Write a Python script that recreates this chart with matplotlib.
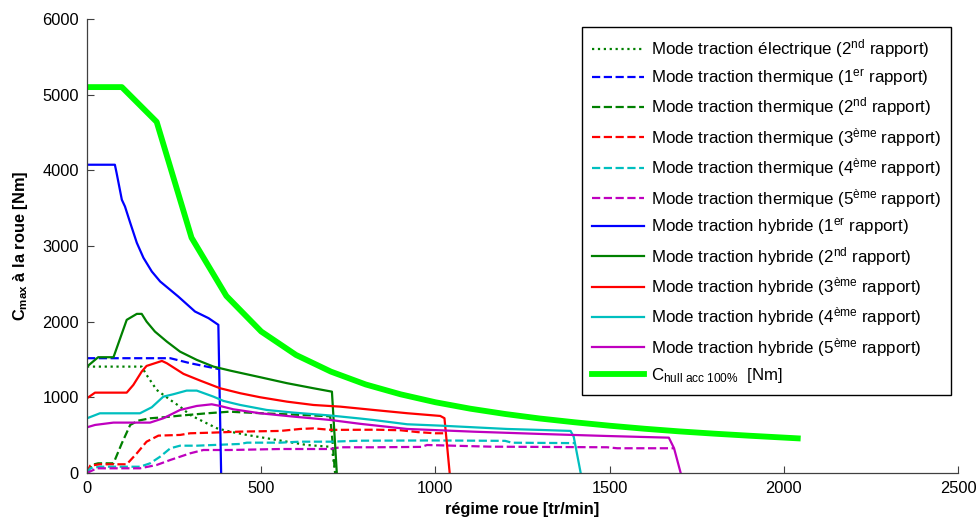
import matplotlib
matplotlib.use("Agg")
import matplotlib.pyplot as plt

plt.rcParams['font.family'] = ['Liberation Sans', 'DejaVu Sans']
plt.rcParams['mathtext.fontset'] = 'custom'
plt.rcParams['mathtext.rm'] = 'Liberation Sans'
plt.rcParams['mathtext.it'] = 'Liberation Sans:italic'
plt.rcParams['mathtext.bf'] = 'Liberation Sans:bold'

# ---------------- data ----------------
elec2_x = [0, 157, 171, 200, 239, 267, 296, 334, 373, 411, 459, 516, 574, 631, 693, 703, 708, 713]
elec2_y = [1406, 1406, 1296, 1098, 966, 877, 767, 679, 591, 546, 503, 459, 414, 370, 348, 330, 150, 0]

therm1_x = [0, 239, 296, 380]
therm1_y = [1517, 1517, 1451, 1372]

therm2_x = [0, 13, 32, 76, 100, 124, 147, 181, 219, 267, 344, 411, 430, 500, 600, 698, 705, 712]
therm2_y = [0, 106, 128, 128, 393, 635, 692, 723, 736, 758, 789, 811, 805, 790, 770, 750, 400, 0]

therm3_x = [0, 9, 37, 114, 143, 171, 205, 267, 296, 363, 440, 555, 612, 650, 700, 830, 900, 950, 1000, 1024]
therm3_y = [0, 97, 115, 115, 260, 414, 494, 503, 525, 534, 547, 556, 582, 590, 570, 572, 565, 540, 525, 525]

therm4_x = [0, 9, 37, 152, 181, 210, 239, 267, 315, 363, 440, 459, 555, 612, 700, 785, 1000, 1200, 1220, 1400]
therm4_y = [0, 62, 83, 83, 128, 216, 326, 361, 361, 370, 384, 401, 401, 414, 414, 427, 430, 425, 400, 395]

therm5_x = [0, 28, 152, 200, 239, 296, 334, 411, 555, 698, 727, 823, 960, 976, 1158, 1493, 1522, 1685]
therm5_y = [0, 62, 62, 106, 172, 260, 304, 304, 317, 317, 340, 340, 345, 370, 348, 340, 327, 327]

hyb1_x = [0, 80, 85, 100, 109, 124, 143, 162, 186, 210, 262, 310, 349, 377, 385]
hyb1_y = [4074, 4074, 3964, 3611, 3522, 3307, 3042, 2844, 2663, 2531, 2332, 2134, 2046, 1958, 0]

hyb2_x = [0, 32, 76, 114, 143, 157, 171, 195, 229, 267, 315, 363, 411, 497, 574, 650, 703, 717]
hyb2_y = [1406, 1530, 1530, 2024, 2103, 2103, 2001, 1869, 1737, 1604, 1495, 1406, 1353, 1266, 1187, 1120, 1075, 0]

hyb3_x = [0, 23, 114, 133, 157, 171, 215, 229, 277, 325, 382, 440, 497, 574, 650, 727, 823, 919, 1014, 1026, 1041]
hyb3_y = [988, 1062, 1062, 1164, 1340, 1415, 1481, 1451, 1310, 1221, 1120, 1054, 1001, 943, 899, 877, 833, 790, 754, 724, 0]

hyb4_x = [0, 37, 152, 186, 219, 248, 286, 315, 363, 392, 440, 516, 593, 698, 784, 823, 919, 1014, 1110, 1206, 1302, 1388, 1397, 1417]
hyb4_y = [723, 789, 789, 869, 1009, 1041, 1089, 1089, 1009, 952, 899, 833, 798, 760, 720, 700, 644, 626, 604, 582, 569, 556, 480, 0]

hyb5_x = [0, 23, 76, 181, 219, 267, 315, 358, 382, 420, 497, 593, 698, 784, 919, 1110, 1302, 1493, 1670, 1685, 1704]
hyb5_y = [604, 635, 666, 666, 723, 833, 886, 908, 886, 842, 789, 745, 701, 650, 582, 546, 516, 489, 467, 327, 0]

hull_x = [0, 100, 200, 300, 400, 500, 600, 700, 800, 900, 1000, 1100, 1200, 1300, 1400, 1500, 1600, 1700, 1800, 1900, 2000, 2040]
hull_y = [5100, 5100, 4640, 3110, 2340, 1870, 1560, 1340, 1170, 1040, 935, 850, 780, 720, 670, 625, 585, 550, 520, 493, 468, 458]

x_ticks = [0, 500, 1000, 1500, 2000, 2500]
y_ticks = [0, 1000, 2000, 3000, 4000, 5000, 6000]

labels = [
    r'Mode traction électrique (2$^{\mathrm{nd}}$ rapport)',
    r'Mode traction thermique (1$^{\mathrm{er}}$ rapport)',
    r'Mode traction thermique (2$^{\mathrm{nd}}$ rapport)',
    r'Mode traction thermique (3$^{\mathrm{ème}}$ rapport)',
    r'Mode traction thermique (4$^{\mathrm{ème}}$ rapport)',
    r'Mode traction thermique (5$^{\mathrm{ème}}$ rapport)',
    r'Mode traction hybride (1$^{\mathrm{er}}$ rapport)',
    r'Mode traction hybride (2$^{\mathrm{nd}}$ rapport)',
    r'Mode traction hybride (3$^{\mathrm{ème}}$ rapport)',
    r'Mode traction hybride (4$^{\mathrm{ème}}$ rapport)',
    r'Mode traction hybride (5$^{\mathrm{ème}}$ rapport)',
    r'C$_{\mathrm{hull\ acc\ 100\%}}$  [Nm]',
]

# ---------------- styles ----------------
BLUE = (0, 0, 1)
GREEN = (0, 0.5, 0)
RED = (1, 0, 0)
CYAN = (0, 0.75, 0.75)
MAG = (0.75, 0, 0.75)
LIME = (0, 1, 0)

fig = plt.figure(figsize=(9.76, 5.19), dpi=100)
ax = fig.add_axes([87 / 976, 46 / 519, 871 / 976, 454 / 519])

lw = 1.6
series = [
    (elec2_x, elec2_y, GREEN, ':', lw),
    (therm1_x, therm1_y, BLUE, '--', lw),
    (therm2_x, therm2_y, GREEN, '--', lw),
    (therm3_x, therm3_y, RED, '--', lw),
    (therm4_x, therm4_y, CYAN, '--', lw),
    (therm5_x, therm5_y, MAG, '--', lw),
    (hyb1_x, hyb1_y, BLUE, '-', lw),
    (hyb2_x, hyb2_y, GREEN, '-', lw),
    (hyb3_x, hyb3_y, RED, '-', lw),
    (hyb4_x, hyb4_y, CYAN, '-', lw),
    (hyb5_x, hyb5_y, MAG, '-', lw),
    (hull_x, hull_y, LIME, '-', 4.2),
]
for (xs, ys, c, ls, w), lab in zip(series, labels):
    ax.plot(xs, ys, color=c, linestyle=ls, linewidth=w, label=lab)

ax.set_xlim(0, 2500)
ax.set_ylim(0, 6000)
ax.set_xticks(x_ticks)
ax.set_yticks(y_ticks)
ax.tick_params(direction='in', length=5, width=0.8, labelsize=11.8, color='#404040', pad=6)
for s in ['top', 'right']:
    ax.spines[s].set_visible(False)
for s in ['left', 'bottom']:
    ax.spines[s].set_color('#404040')
    ax.spines[s].set_linewidth(0.9)

ax.set_xlabel('régime roue [tr/min]', fontsize=11.8, fontweight='bold', labelpad=4)
ax.set_ylabel(r'C$_{\mathbf{max}}$ à la roue [Nm]', fontsize=11.8, fontweight='bold', labelpad=9)

leg = ax.legend(loc='upper left', bbox_to_anchor=(0.568, 0.982), borderaxespad=0,
                fontsize=12.2, frameon=True, fancybox=False, handlelength=3.1,
                handletextpad=0.4, labelspacing=0.44, borderpad=0.6)
leg.get_frame().set_edgecolor('black')
leg.get_frame().set_linewidth(1.0)
leg.get_frame().set_alpha(1)

fig.savefig('out.png', dpi=100)
